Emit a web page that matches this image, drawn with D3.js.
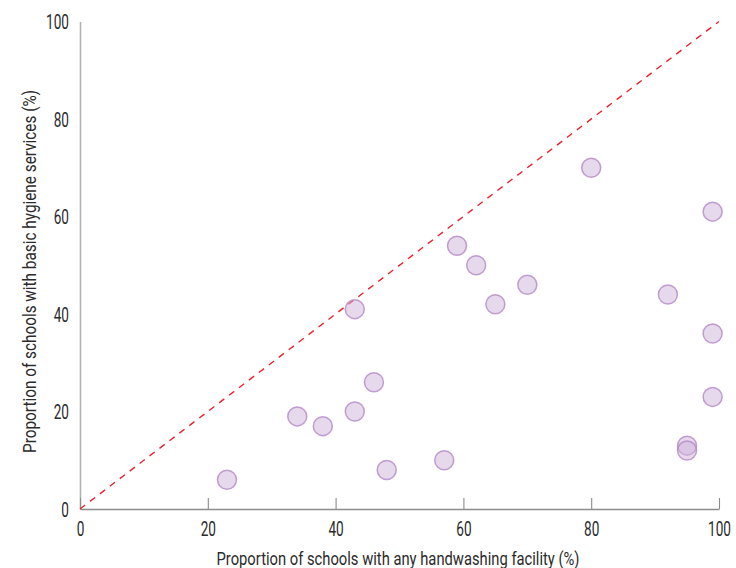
<!DOCTYPE html>
<html>
<head>
<meta charset="utf-8">
<script src="https://cdn.jsdelivr.net/npm/d3@7"></script>
<style>
  html, body { margin: 0; padding: 0; background: #fff; }
  svg text { font-family: "Roboto", "Liberation Sans", sans-serif; fill: #2b2b2b; }
</style>
</head>
<body>
<svg id="chart" width="736" height="568"></svg>
<script>
const handwashing = [23, 34, 38, 43, 43, 46, 48, 57, 59, 62, 65, 70, 80, 92, 95, 95, 99, 99, 99];
const hygiene     = [6, 19, 17, 41, 20, 26, 8, 10, 54, 50, 42, 46, 70, 44, 13, 12, 61, 36, 23];
const xTicks = [0, 20, 40, 60, 80, 100];
const yTicks = [0, 20, 40, 60, 80, 100];
const xLabel = "Proportion of schools with any handwashing facility (%)";
const yLabel = "Proportion of schools with basic hygiene services (%)";

const svg = d3.select("#chart");
const x = d3.scaleLinear().domain([0, 100]).range([80, 719]);
const y = d3.scaleLinear().domain([0, 100]).range([509, 21.5]);
const SX = 0.68; // horizontal condensing of the glyphs

// y axis: line and labels, no ticks
const yAxis = svg.append("g").attr("transform", `translate(${x(0)},0)`)
  .call(d3.axisLeft(y).tickValues(yTicks).tickSize(0).tickPadding(0));
yAxis.select(".domain").attr("stroke", "#b3b3b3").attr("stroke-width", 1.6);
yAxis.selectAll(".tick text")
  .style("font-size", "20px").attr("x", null).attr("dy", "0.36em")
  .attr("transform", `translate(-11,0) scale(${SX},1)`);

// x axis with inward ticks
const xAxis = svg.append("g").attr("transform", `translate(0,${y(0)})`)
  .call(d3.axisBottom(x).tickValues(xTicks).tickSizeInner(-11).tickSizeOuter(0).tickPadding(0));
xAxis.select(".domain").attr("stroke", "#8c8c8c").attr("stroke-width", 1.3);
xAxis.selectAll(".tick line").attr("stroke", "#8c8c8c").attr("stroke-width", 1.1);
xAxis.selectAll(".tick text")
  .style("font-size", "20px").attr("y", null).attr("dy", "0.71em")
  .attr("transform", `translate(0,12.5) scale(${SX},1)`);

// diagonal reference line
svg.append("line")
  .attr("x1", x(0)).attr("y1", y(0))
  .attr("x2", x(100)).attr("y2", y(100))
  .attr("stroke", "#e8232b").attr("stroke-width", 1.4)
  .attr("stroke-dasharray", "6.5,6");

// points
const pts = handwashing.map((v, i) => ({ x: v, y: hygiene[i] }));
svg.append("g").selectAll("circle").data(pts).join("circle")
  .attr("cx", d => x(d.x)).attr("cy", d => y(d.y)).attr("r", 9.5)
  .attr("fill", "rgba(205,180,218,0.5)")
  .attr("stroke", "rgba(175,130,195,0.75)")
  .attr("stroke-width", 1.5);

// axis titles
svg.append("text").attr("x", 398).attr("y", 565)
  .attr("text-anchor", "middle").style("font-size", "18px")
  .attr("textLength", 363).attr("lengthAdjust", "spacingAndGlyphs")
  .text(xLabel);
svg.append("text").attr("transform", `translate(36,271.5) rotate(-90)`)
  .attr("text-anchor", "middle").style("font-size", "18px")
  .attr("textLength", 363).attr("lengthAdjust", "spacingAndGlyphs")
  .text(yLabel);
</script>
</body>
</html>
